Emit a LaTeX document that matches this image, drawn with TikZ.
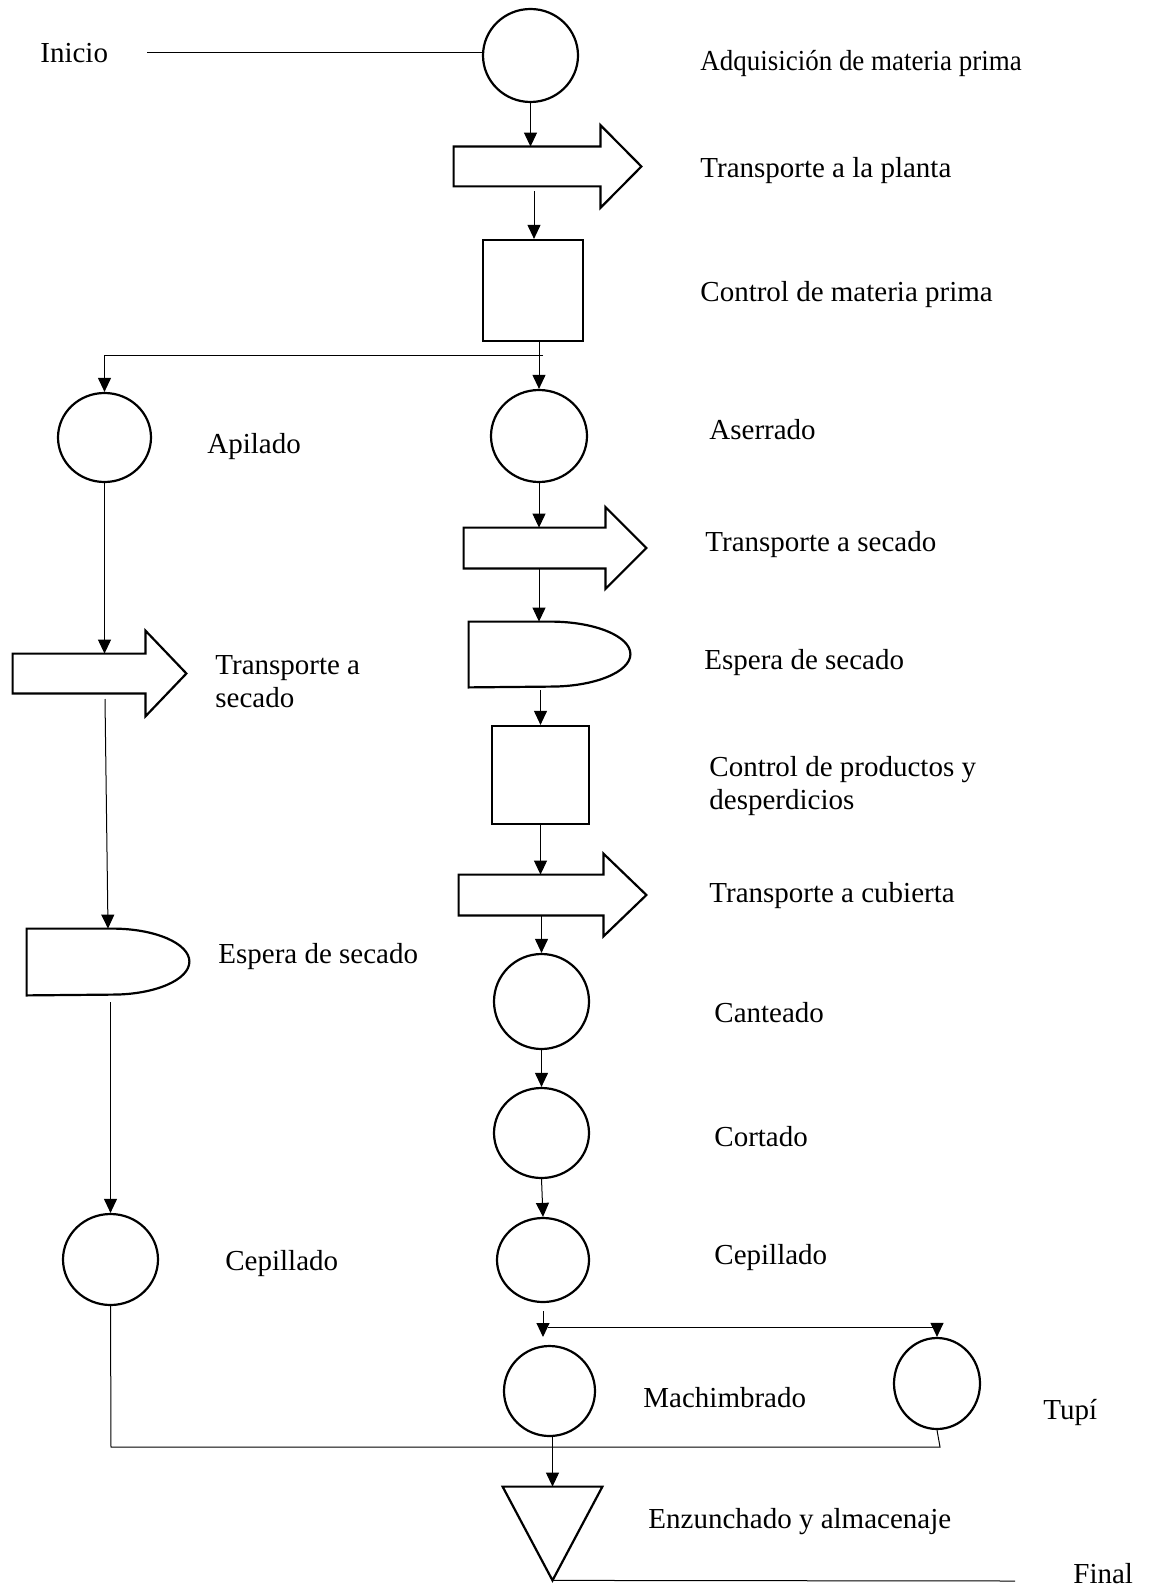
\documentclass[tikz,border=0pt]{standalone}
\usepackage{fontspec}
\setmainfont{Liberation Serif}
\usetikzlibrary{arrows.meta,shapes.geometric,calc}
\newcommand\transp[3]{\draw[shp] (#1.south west) -- (#1.north west) -- (#1.north east) -- ++(0,#2) -- ($(#1.east)+(#3,0)$) -- ($(#1.south east)+(0,-#2)$) -- (#1.south east) -- cycle;}
\newcommand\delaypath[3]{\draw[shp] (#1.south west) -- (#1.north west) -- ($(#1.north east)+(-#2,0)$) arc[start angle=90,end angle=-90,x radius=#2,y radius=#3] -- cycle;}
\begin{document}
\begin{tikzpicture}[x=0.5pt,y=-0.5pt,
  shp/.style={draw=black,line width=1.1pt,line join=miter},
  circ/.style={shp,ellipse,inner sep=0pt},
  box/.style={shp,rectangle,inner sep=0pt},
  hid/.style={rectangle,inner sep=0pt,draw=none},
  arr/.style={draw=black,line width=0.5pt,-{Triangle[length=7pt,width=6.5pt]}},
  ln/.style={draw=black,line width=0.5pt},
  lbl/.style={inner sep=0pt,anchor=base west,font=\fontsize{14.5}{16.5}\selectfont},
  lbl2/.style={inner sep=0pt,anchor=west,align=left,font=\fontsize{14.5}{16.5}\selectfont},
]
\useasboundingbox (0,0) rectangle (1150,1588);

% ---------- right column shapes ----------
\node[circ,minimum width=47.5pt,minimum height=46.5pt] (c1) at (530.5,55.5) {};
\node[hid,minimum width=73pt,minimum height=19.5pt] (t1) at (527,166.5) {};
\transp{t1}{10.75pt}{20.5pt}
\node[box,minimum width=50pt,minimum height=50.5pt] (sq1) at (533,290.5) {};
\node[circ,minimum width=48pt,minimum height=46pt] (aserr) at (539,436) {};
\node[hid,minimum width=70.5pt,minimum height=20pt] (t2) at (534.5,548) {};
\transp{t2}{10.25pt}{20.5pt}
\node[hid,minimum width=80.5pt,minimum height=32.5pt] (dR) at (549.5,654.5) {};
\delaypath{dR}{40pt}{16.25pt}
\node[box,minimum width=48.5pt,minimum height=49pt] (sq2) at (540.5,775) {};
\node[hid,minimum width=72pt,minimum height=20pt] (t3) at (531,895) {};
\transp{t3}{10.5pt}{21.5pt}
\node[circ,minimum width=47.5pt,minimum height=47.5pt] (cant) at (541.5,1001.5) {};
\node[circ,minimum width=47.5pt,minimum height=45pt] (cort) at (541.5,1133) {};
\node[circ,minimum width=46pt,minimum height=42pt] (cepR) at (543,1260) {};
\node[circ,minimum width=45.5pt,minimum height=45pt] (mach) at (549.5,1391) {};
\node[circ,minimum width=43pt,minimum height=45.5pt] (tupi) at (937,1383.5) {};
\node[hid,minimum width=49.5pt,minimum height=46.5pt] (tri) at (552.5,1533.5) {};
\draw[shp] (tri.north west) -- (tri.north east) -- (tri.south) -- cycle;

% ---------- left column shapes ----------
\node[circ,minimum width=46.5pt,minimum height=44.5pt] (apil) at (104.5,437.5) {};
\node[hid,minimum width=66pt,minimum height=19.5pt] (tL) at (79,673.5) {};
\transp{tL}{11.5pt}{20.5pt}
\node[hid,minimum width=81pt,minimum height=33pt] (dL) at (108,962) {};
\delaypath{dL}{38.5pt}{16.5pt}
\node[circ,minimum width=47.5pt,minimum height=45.5pt] (cepL) at (110.5,1259.5) {};

% ---------- labels ----------
\node[lbl] (lini) at (40,63) {Inicio};
\node[lbl] (l1) at (700,71) {\scalebox{0.93}[1]{Adquisición de materia prima}};
\node[lbl] (l2) at (700,178) {Transporte a la planta};
\node[lbl] (l3) at (700,302) {Control de materia prima};
\node[lbl] (lapi) at (207,453) {Apilado};
\node[lbl] (lase) at (709,440) {Aserrado};
\node[lbl] (ltr2) at (705,551) {Transporte a secado};
\node[lbl] (lesp) at (704,669) {Espera de secado};
\node[lbl2] (lcon) at (709,786) {Control de productos y\\desperdicios};
\node[lbl] (lcub) at (709,902) {Transporte a cubierta};
\node[lbl] (lcan) at (714,1022) {Canteado};
\node[lbl] (lcor) at (714,1146) {Cortado};
\node[lbl] (lcep) at (714,1264) {Cepillado};
\node[lbl] (lmac) at (643,1407) {Machimbrado};
\node[lbl] (ltup) at (1043,1419) {Tupí};
\node[lbl] (lenz) at (648,1528) {Enzunchado y almacenaje};
\node[lbl] (lfin) at (1073,1583) {Final};
\node[lbl2] (ltrL) at (215,682) {Transporte a\\secado};
\node[lbl] (lespL) at (218,963) {Espera de secado};
\node[lbl] (lcepL) at (225,1270) {Cepillado};

% ---------- connectors ----------
\coordinate (inis) at (147,53);
\draw[ln] (inis) -- (inis -| c1.west);
\draw[arr] (c1.south) -- (c1.south |- t1.north);
\coordinate (a3) at ($(t1.south)+(3.5pt,0)$);
\draw[arr,shorten <=2.5pt] (a3) -- (a3 |- sq1.north);
\draw[ln] (aserr.north |- sq1.south) -- (aserr.north |- 0,356);
\coordinate (brR) at (543,356);
\draw[arr] (brR) -- (brR -| apil.north) -- (apil.north);
\draw[arr] (aserr.north |- sq1.south) -- (aserr.north);
\draw[arr] (aserr.south) -- (aserr.south |- t2.north);
\draw[arr] (aserr.south |- t2.south) -- (aserr.south |- dR.north);
\draw[arr,shorten <=1.5pt] (sq2.north |- dR.south) -- (sq2.north);
\draw[arr] (sq2.south) -- (sq2.south |- t3.north);
\draw[arr] (cant.north |- t3.south) -- (cant.north);
\draw[arr] (cant.south) -- (cort.north);
\draw[arr] (cort.south) -- (cepR.north);
\coordinate (m1) at (543,1311);
\coordinate (m2) at (543,1337);
\draw[arr] (m1) -- (m2);
\coordinate (hs) at (548,1327);
\draw[arr] (hs) -- (hs -| tupi.north) -- (tupi.north);
\draw[arr] (tri.north |- mach.south) -- (tri.north);
\coordinate (bl) at (111,1447);
\coordinate (br) at (940,1447);
\draw[ln] (cepL.south) -- (bl) -- (br) -- (tupi.south);
\coordinate (fe) at (1015,1581);
\draw[ln] (tri.south) -- (fe);
% left column
\draw[arr] (apil.south) -- (apil.south |- tL.north);
\coordinate (lq) at (105,699);
\draw[arr] (lq) -- (dL.north);
\draw[arr,shorten <=3.5pt] (cepL.north |- dL.south) -- (cepL.north);
\end{tikzpicture}
\end{document}
